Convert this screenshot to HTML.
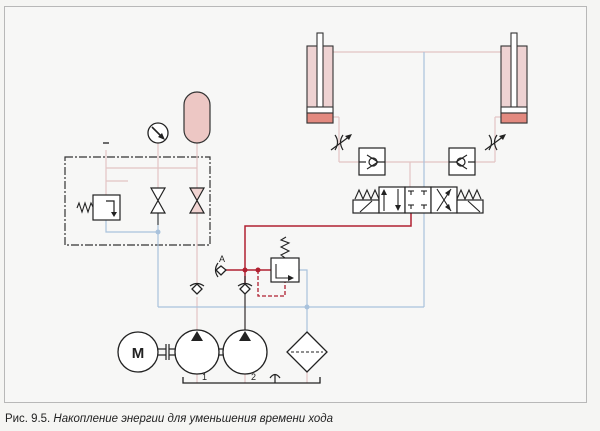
<!DOCTYPE html>
<html><head><meta charset="utf-8"><style>
html,body{margin:0;padding:0;background:#f5f5f3;}
svg{display:block;}
text{font-family:"Liberation Sans",sans-serif;}
</style></head><body>
<svg width="600" height="431" viewBox="0 0 600 431" xmlns="http://www.w3.org/2000/svg">
<rect width="600" height="431" fill="#f5f5f3"/>
<rect x="4.5" y="6.5" width="582" height="396" fill="#f7f7f6" stroke="#b8b8b8" stroke-width="1"/>

<rect x="65" y="157" width="145" height="88" fill="none" stroke="#333" stroke-width="1.2" stroke-dasharray="8,2,2,2"/>

<g stroke="#e3c4c4" stroke-width="1.2" fill="none">
<line x1="106" y1="168" x2="197" y2="168"/>
<line x1="106" y1="181" x2="128" y2="181"/>
<line x1="158" y1="143" x2="158" y2="188"/>
<line x1="197" y1="143" x2="197" y2="188"/>
<line x1="106" y1="150" x2="106" y2="195"/>
<line x1="197" y1="213" x2="197" y2="290"/>
<line x1="197" y1="297" x2="197" y2="330"/>
<line x1="245" y1="297" x2="245" y2="330"/>
<line x1="245" y1="374" x2="245" y2="383"/>
<line x1="197" y1="374" x2="197" y2="383"/>
<line x1="307" y1="372" x2="307" y2="383"/>
<line x1="333" y1="117" x2="339" y2="117"/><line x1="339" y1="117" x2="339" y2="162"/><line x1="339" y1="162" x2="359" y2="162"/>
<line x1="501" y1="117" x2="495" y2="117"/><line x1="495" y1="117" x2="495" y2="162"/><line x1="495" y1="162" x2="475" y2="162"/>
<line x1="385" y1="162" x2="449" y2="162"/>
<line x1="410" y1="162" x2="410" y2="187"/>
<line x1="333" y1="52" x2="501" y2="52"/>
</g>
<g stroke="#a9c2dc" stroke-width="1.2" fill="none">
<polyline points="106,220 106,232 158,232"/>
<line x1="158" y1="213" x2="158" y2="307"/>
<line x1="158" y1="307" x2="424" y2="307"/>
<line x1="424" y1="52" x2="424" y2="187"/>
<line x1="424" y1="213" x2="424" y2="307"/>
<polyline points="299,270 307,270 307,332"/>
</g>
<circle cx="158" cy="232" r="2.5" fill="#a9c2dc"/>
<circle cx="307" cy="307" r="2.5" fill="#a9c2dc"/>

<g stroke="#b02030" stroke-width="1.5" fill="none">
<polyline points="245,283 245,226 411,226 411,213"/>
<line x1="225" y1="270" x2="271" y2="270"/>
</g>
<polyline points="258,270 258,296 285,296 285,282" fill="none" stroke="#b02030" stroke-width="1.3" stroke-dasharray="4,2"/>
<circle cx="245" cy="270" r="2.5" fill="#b02030"/>
<circle cx="258" cy="270" r="2.5" fill="#b02030"/>
<line x1="245" y1="276" x2="245" y2="330" stroke="#333" stroke-width="1.2"/>

<line x1="103" y1="143" x2="109" y2="143" stroke="#222" stroke-width="1.3"/>

<circle cx="158" cy="133" r="10" fill="#fff" stroke="#222" stroke-width="1.3"/>
<line x1="152" y1="127" x2="163" y2="138" stroke="#222" stroke-width="1.6"/>
<polygon points="165,140 158,137 162,133" fill="#222"/>
<rect x="184" y="92" width="26" height="51" rx="13" fill="#edc7c4" stroke="#333" stroke-width="1.2"/>

<rect x="93" y="195" width="27" height="25" fill="#fff" stroke="#222" stroke-width="1.2"/>
<polyline points="106,201 114,201 114,214" fill="none" stroke="#222" stroke-width="1.2"/>
<polygon points="111,212 117,212 114,217" fill="#222"/>
<polyline points="93,207 91,203 88,212 85,203 82,212 79,203 77,208" fill="none" stroke="#222" stroke-width="1.1"/>
<polygon points="151,188 165,188 151,213 165,213" fill="#fff" stroke="#222" stroke-width="1.2"/>
<polygon points="190,188 204,188 190,213 204,213" fill="#f0d4d2" stroke="#222" stroke-width="1.2"/>
<line x1="158" y1="213" x2="158" y2="225" stroke="#222" stroke-width="1"/>

<g fill="#fff" stroke="#222" stroke-width="1.3">
<polygon points="197,284 202,289 197,294 192,289"/>
<polygon points="245,284 250,289 245,294 240,289"/>
<polygon points="221,266 226,270 221,275 216,270"/>
</g>
<path d="M190,286 Q197,281 204,286" fill="none" stroke="#222" stroke-width="1.2"/>
<path d="M238,286 Q245,281 252,286" fill="none" stroke="#222" stroke-width="1.2"/>
<path d="M218,263 Q213,270 218,277" fill="none" stroke="#222" stroke-width="1.2"/>
<text x="219" y="262" font-size="9" fill="#222">A</text>

<rect x="271" y="258" width="28" height="24" fill="#fff" stroke="#222" stroke-width="1.2"/>
<polyline points="276,264 276,278 290,278" fill="none" stroke="#222" stroke-width="1.1"/>
<polygon points="288,275 294,278 288,281" fill="#222"/>
<polyline points="285,258 281,255 289,251 281,247 289,243 281,240 286,237" fill="none" stroke="#222" stroke-width="1.1"/>

<circle cx="138" cy="352" r="20" fill="#fff" stroke="#222" stroke-width="1.3"/>
<text x="138" y="358" font-size="15" font-weight="bold" text-anchor="middle" fill="#222">M</text>
<g stroke="#222" stroke-width="1.2">
<line x1="158" y1="349" x2="166" y2="349"/><line x1="158" y1="355" x2="166" y2="355"/>
<line x1="166" y1="344" x2="166" y2="360"/><line x1="169" y1="344" x2="169" y2="360"/>
<line x1="169" y1="349" x2="175" y2="349"/><line x1="169" y1="355" x2="175" y2="355"/>
<line x1="219" y1="349" x2="223" y2="349"/><line x1="219" y1="355" x2="223" y2="355"/>
</g>
<circle cx="197" cy="352" r="22" fill="#fff" stroke="#222" stroke-width="1.3"/>
<circle cx="245" cy="352" r="22" fill="#fff" stroke="#222" stroke-width="1.3"/>
<polygon points="197,331 191,341 203,341" fill="#222"/>
<polygon points="245,331 239,341 251,341" fill="#222"/>
<polygon points="307,332 327,352 307,372 287,352" fill="#fff" stroke="#222" stroke-width="1.3"/>
<line x1="291" y1="352" x2="323" y2="352" stroke="#222" stroke-width="1" stroke-dasharray="3,2"/>
<polyline points="183,377 183,383 320,383 320,377" fill="none" stroke="#222" stroke-width="1.3"/>
<line x1="275" y1="375" x2="275" y2="383" stroke="#222" stroke-width="1.2"/>
<path d="M270,378 Q275,371 280,378" fill="none" stroke="#222" stroke-width="1.2"/>
<text x="202" y="380" font-size="9" fill="#222">1</text>
<text x="251" y="380" font-size="9" fill="#222">2</text>

<g stroke="#333" stroke-width="1.1">
<rect x="307" y="46" width="26" height="77" fill="#eed2d2"/>
<rect x="317" y="33" width="6" height="74" fill="#fff"/>
<rect x="307" y="107" width="26" height="6" fill="#fff"/>
<rect x="307" y="113" width="26" height="10" fill="#e38a80"/>
<rect x="501" y="46" width="26" height="77" fill="#eed2d2"/>
<rect x="511" y="33" width="6" height="74" fill="#fff"/>
<rect x="501" y="107" width="26" height="6" fill="#fff"/>
<rect x="501" y="113" width="26" height="10" fill="#e38a80"/>
</g>
<g stroke="#222" stroke-width="1.2" fill="none">
<path d="M335,135 Q340,142 335,150"/><path d="M343,135 Q338,142 343,150"/>
<line x1="331" y1="150" x2="350" y2="136"/>
<path d="M489,135 Q494,142 489,150"/><path d="M497,135 Q492,142 497,150"/>
<line x1="485" y1="150" x2="504" y2="136"/>
</g>
<polygon points="352,134 345,136 349,140" fill="#222"/>
<polygon points="506,134 499,136 503,140" fill="#222"/>
<g stroke="#222" stroke-width="1.2">
<rect x="359" y="148" width="26" height="27" fill="#fff"/>
<rect x="449" y="148" width="26" height="27" fill="#fff"/>
<line x1="359" y1="162" x2="366" y2="162"/><line x1="378" y1="162" x2="385" y2="162"/>
<line x1="449" y1="162" x2="456" y2="162"/><line x1="468" y1="162" x2="475" y2="162"/>
</g>
<circle cx="373" cy="162" r="4" fill="#fff" stroke="#222" stroke-width="1.2"/>
<circle cx="461" cy="162" r="4" fill="#fff" stroke="#222" stroke-width="1.2"/>
<polyline points="367,155 378,162 367,169" fill="none" stroke="#222" stroke-width="1.1"/>
<polyline points="467,155 456,162 467,169" fill="none" stroke="#222" stroke-width="1.1"/>

<g stroke="#222" stroke-width="1.2" fill="#fff">
<rect x="353" y="200" width="26" height="13"/>
<rect x="379" y="187" width="26" height="26"/>
<rect x="405" y="187" width="26" height="26"/>
<rect x="431" y="187" width="26" height="26"/>
<rect x="457" y="200" width="26" height="13"/>
</g>
<g stroke="#222" stroke-width="1.1" fill="none">
<line x1="360" y1="212" x2="372" y2="201"/>
<line x1="468" y1="201" x2="480" y2="212"/>
<polyline points="355,199 359,190 363,199 367,190 371,199 375,190 379,199"/>
<polyline points="457,199 461,190 465,199 469,190 473,199 477,190 481,199"/>
<line x1="384" y1="190" x2="384" y2="211"/>
<line x1="398" y1="189" x2="398" y2="210"/>
<line x1="411" y1="191" x2="411" y2="195"/><line x1="408" y1="191" x2="414" y2="191"/>
<line x1="424" y1="191" x2="424" y2="195"/><line x1="421" y1="191" x2="427" y2="191"/>
<line x1="411" y1="205" x2="411" y2="209"/><line x1="408" y1="205" x2="414" y2="205"/>
<line x1="424" y1="205" x2="424" y2="209"/><line x1="421" y1="205" x2="427" y2="205"/>
<line x1="437" y1="189" x2="451" y2="211"/>
<line x1="451" y1="189" x2="437" y2="211"/>
</g>
<polygon points="384,189 381,195 387,195" fill="#222"/>
<polygon points="398,211 395,205 401,205" fill="#222"/>
<polygon points="451,189 445,193 449,196" fill="#222"/>
<polygon points="451,211 445,207 449,204" fill="#222"/>

<text x="5" y="422" font-size="11.5" fill="#222" textLength="328" lengthAdjust="spacingAndGlyphs">Рис. 9.5. <tspan font-style="italic">Накопление энергии для уменьшения времени хода</tspan></text>
</svg>
</body></html>
